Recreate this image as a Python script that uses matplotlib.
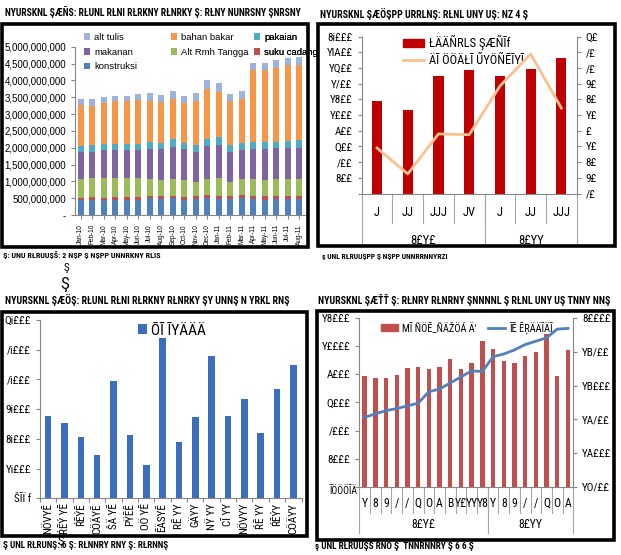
import matplotlib
matplotlib.use("Agg")
import matplotlib.pyplot as plt
import numpy as np
from matplotlib import font_manager as fm
from matplotlib.patches import Rectangle, Patch
from matplotlib.lines import Line2D

# ---------------- data ----------------
# chart 1: monthly stacked bars (values in million)
months1 = ["Jan-10", "Feb-10", "Mar-10", "Apr-10", "May-10", "Jun-10", "Jul-10",
           "Aug-10", "Sep-10", "Oct-10", "Nov-10", "Dec-10", "Jan-11", "Feb-11",
           "Mar-11", "Apr-11", "May-11", "Jun-11", "Jul-11", "Aug-11"]
konstruksi = [440, 460, 450, 460, 450, 450, 500, 480, 500, 450, 480, 500, 480, 480, 500, 470, 460, 480, 480, 470]
suku_cadang = [60, 60, 50, 70, 70, 80, 50, 70, 50, 80, 70, 80, 80, 70, 80, 80, 90, 70, 90, 80]
alt_rmh = [580, 580, 600, 570, 580, 570, 530, 500, 530, 520, 420, 500, 540, 420, 490, 530, 500, 520, 500, 520]
makanan = [800, 770, 820, 820, 820, 830, 870, 900, 950, 900, 900, 970, 980, 900, 860, 870, 900, 910, 930, 930]
pakaian = [170, 200, 180, 180, 180, 190, 230, 200, 220, 200, 210, 220, 240, 210, 220, 220, 220, 200, 200, 220]
bahan_bakar = [1230, 1180, 1220, 1300, 1300, 1300, 1220, 1200, 1200, 1170, 1320, 1480, 1330, 1320, 1300,
               2130, 2130, 2200, 2250, 2250]
alt_tulis = [170, 200, 180, 150, 150, 180, 220, 220, 230, 230, 230, 250, 270, 200, 230, 220, 220, 220, 210, 230]
series1 = ["konstruksi", "suku cadang", "Alt Rmh Tangga", "makanan", "pakaian", "bahan bakar", "alt tulis"]

# chart 2: quarterly bars + line
quarters2 = ["J", "JJ", "JJJ", "JV", "J", "JJ", "JJJ"]
years2 = ["8£Y£", "8£YY"]
year_sizes2 = [4, 3]
bars2 = [1180, 1070, 1500, 1570, 1500, 1590, 1730]
line2 = [-11, -27.5, -2, -2.5, 28.5, 49, 14.5]
yticks2_left = ["", "8££", "/££", "Q££", "A££", "Y£££", "Y8££", "Y/££", "YQ££", "YlA££", "8i£££"]
yticks2_right = ["/£", "9£", "8£", "Y£", "£", "Y£", "8£", "9£", "/£", "/£", "Q£"]
legend2 = ["ŁÄÄÑRLS ŞÆÑĪf", "ÄĪ ÖÖÄŁĪ ŰYÖÑĒĪYĪ"]

# chart 3: single series bars
cats3 = ["NÖVYĒ", "ŔĒÝ YĒ", "ŔĒÝĒ", "CÖÄYĒ", "ŠÄ YĒ", "PŸĒĒ", "OÖ YĒ", "ĒÄSYĒ",
         "RĒ YY", "GÄYY", "NŸ YY", "CĪ YY", "NÖVYY", "ŔĒ YY", "ŔĒÝY", "CÖÄYY"]
bars3 = [2770, 2520, 2050, 1450, 3960, 2130, 1110, 5410, 1880, 2740, 4800, 2770, 3330, 2200, 3680, 4500]
yticks3 = ["ŠĪÏ f", "Yi£££", "8i£££", "9i£££", "/i£££", "/i£££", "Qi£££"]
legend3 = "ŌĪ ĪYÄÄÄ"

# chart 4: monthly bars (left) + line (right)
months4 = ["Y", "8", "9", "/", "/", "Q", "O", "A", "B", "Y£", "YY", "Y8",
           "Y", "8", "9", "/", "/", "Q", "O", "A"]
years4 = ["8£Y£", "8£YY"]
year_sizes4 = [12, 8]
bars4 = [7890, 7770, 7770, 7960, 8460, 8550, 8380, 8500, 9100, 8380, 8840, 10400,
         9790, 8930, 8840, 9290, 9620, 10880, 7890, 9740]
line4 = [18530, 18580, 18630, 18660, 18700, 18740, 18910, 18950, 19040, 19130, 19220, 19210,
         19430, 19470, 19530, 19610, 19660, 19710, 19840, 19850]
yticks4_left = ["", "8£££", "/£££", "Q£££", "A£££", "Y££££", "Y8£££"]
yticks4_right = ["YO/££", "YA£££", "YA/££", "YB£££", "YB/££", "8££££"]
legend4 = ["MĪ ÑÖĒ_ÑÄŽÖÁ Ä'", "ĪĒ ĒŖÄÄĪÄĪ"]

titles = ["NYURSKNL ŞÆÑS: RŁUNL RŁNI RŁRKNY RŁNRKY Ş: RŁNY NUNRSNY ŞNRSNY",
          "NYURSKNL ŞÆÖŞPP URRLNŞ: RŁNL UNY UŞ: NZ 4 Ş",
          "NYURSKNL ŞÆÖŞ: RŁUNL RŁNI RŁRKNY RŁNRKY ŞY UNNŞ N YRKL RNŞ",
          "NYURSKNL ŞÆŤŤ Ş: RŁNRY RŁNRNY ŞNNNNL Ş RŁNL UNY UŞ TNNY NNŞ"]
captions = ["Ş: UNU RŁRUUŞŠ: 2 NŞP Ş NŞPP UNNRKNY RLIS",
            "ş UNL RŁRUUŞPP Ş NŞPP UNNRRNNYRZI",
            "Ş UNL RŁRUNŞ: 6 Ş: RŁNNRY RNY Ş: RŁRNNŞ",
            "ş UNL RŁRUUŞŠ RNO Ş  TNNRNNRY Ş 6 6 Ş"]

# ---------------- fonts ----------------
names = {f.name for f in fm.fontManager.ttflist}
NARROW = next((n for n in ["Liberation Sans Narrow", "Roboto Condensed", "Open Sans Condensed"]
               if n in names), "DejaVu Sans")
plt.rcParams["font.family"] = ["Liberation Sans", "DejaVu Sans"]
GF = [NARROW, "DejaVu Sans"]

W, H = 621, 555
fig = plt.figure(figsize=(W / 100, H / 100), dpi=100)


def axrect(x0, y0, x1, y1):
    return [x0 / W, 1 - y1 / H, (x1 - x0) / W, (y1 - y0) / H]


def box(x0, y0, x1, y1):
    fig.add_artist(Rectangle((x0 / W, 1 - y1 / H), (x1 - x0) / W, (y1 - y0) / H,
                             transform=fig.transFigure, fill=False, lw=2.6, ec="black"))


def ftext(x, y, s, size=7.5, **kw):
    kw.setdefault("ha", "left")
    kw.setdefault("va", "center")
    return fig.text(x / W, 1 - y / H, s, fontsize=size, family=GF, **kw)


def fit(t, width):
    # scale the font so the text spans the same width as in the reference
    r = fig.canvas.get_renderer()
    w = t.get_window_extent(r).width
    t.set_fontsize(t.get_fontsize() * width / w)


def style(ax):
    for sp in ["top", "right"]:
        ax.spines[sp].set_visible(False)
    ax.spines["left"].set_color("#868686")
    ax.spines["bottom"].set_color("#868686")
    ax.tick_params(axis="both", direction="out", length=3, color="#868686", width=0.8)


def style_right(ax):
    for sp in ["top", "left", "bottom"]:
        ax.spines[sp].set_visible(False)
    ax.spines["right"].set_color("#868686")
    ax.tick_params(direction="out", length=3, color="#868686", width=0.8)


def group_axis(ax, labels, groups, sizes, lab_y, short_y, long_y, grp_y, fs):
    tr = ax.get_xaxis_transform()
    n = len(labels)
    for i, lab in enumerate(labels):
        ax.text(i, lab_y, lab, transform=tr, ha="center", va="center", fontsize=fs, family=GF)
    for b in range(1, n):
        ax.plot([b - 0.5, b - 0.5], [0, short_y], transform=tr, color="#A6A6A6", lw=0.8, clip_on=False)
    edges = np.cumsum([0] + sizes) - 0.5
    for e in edges:
        ax.plot([e, e], [0, long_y], transform=tr, color="#A6A6A6", lw=0.8, clip_on=False)
    for g, s, e0 in zip(groups, sizes, edges[:-1]):
        ax.text(e0 + s / 2, grp_y, g, transform=tr, ha="center", va="center", fontsize=fs, family=GF)
    ax.set_xticks([])


# ---------------- chart 1 ----------------
box(2, 24, 308, 247)
ax1 = fig.add_axes(axrect(75, 46.7, 305, 215))
x1 = np.arange(len(months1))
colors1 = ["#4F81BD", "#C0504D", "#9BBB59", "#8064A2", "#4BACC6", "#F79646", "#9DB3DD"]
data1 = [konstruksi, suku_cadang, alt_rmh, makanan, pakaian, bahan_bakar, alt_tulis]
bottom = np.zeros(len(months1))
handles1 = {}
for name, vals, c in zip(series1, data1, colors1):
    v = np.array(vals) * 1e6
    handles1[name] = ax1.bar(x1, v, 0.5, bottom=bottom, color=c, label=name)
    bottom += v
ax1.set_xlim(-0.5, len(months1) - 0.5)
ax1.set_ylim(0, 5e9)
yt = np.arange(0, 5.01e9, 5e8)
ax1.set_yticks(yt)
ax1.set_yticklabels(["-"] + [f"{int(v):,}" for v in yt[1:]], fontsize=7)
ax1.set_xticks(x1)
ax1.set_xticklabels(months1, rotation=90, fontsize=4.7)
style(ax1)
# excel-like legend: three columns of equal width
cols1 = [(79, ["alt tulis", "makanan", "konstruksi"]),
         (166, ["bahan bakar", "Alt Rmh Tangga"]),
         (249, ["pakaian", "suku cadang"])]
for cx, names1 in cols1:
    lg = ax1.legend([handles1[n] for n in names1], names1, loc="upper left",
                    bbox_to_anchor=(cx / W, 1 - 28 / H), bbox_transform=fig.transFigure,
                    frameon=False, fontsize=6.8, handlelength=0.7, handleheight=0.7,
                    handletextpad=0.4, labelspacing=0.62, borderpad=0)
    ax1.add_artist(lg)

# ---------------- chart 2 ----------------
box(318, 24, 615, 246)
ax2 = fig.add_axes(axrect(361.7, 36.7, 576.7, 193.5))
x2 = np.arange(len(quarters2))
ax2.bar(x2, bars2, 0.33, color="#C00000", zorder=2)
ax2.set_xlim(-0.5, len(quarters2) - 0.5)
ax2.set_ylim(0, 2000)
ax2.set_yticks(np.arange(0, 2001, 200))
ax2.set_yticklabels(yticks2_left, fontsize=8, family=GF)
style(ax2)
ax2b = ax2.twinx()
ax2b.plot(x2, line2, color="#FAC090", lw=2)
ax2b.set_ylim(-40, 60)
ax2b.set_yticks(np.arange(-40, 61, 10))
ax2b.set_yticklabels(yticks2_right, fontsize=8, family=GF)
style_right(ax2b)
group_axis(ax2, quarters2, years2, year_sizes2, -0.122, -0.188, -0.318, -0.297, 9)
ax2.legend([Patch(color="#C00000"), Line2D([], [], color="#FAC090", lw=2)], legend2,
           loc="upper left", bbox_to_anchor=(397 / W, 1 - 29 / H), bbox_transform=fig.transFigure,
           frameon=False, prop={"family": GF, "size": 9}, handlelength=1.7,
           handletextpad=0.4, labelspacing=0.3, borderpad=0)

# ---------------- chart 3 ----------------
box(2, 312, 307, 536)
ax3 = fig.add_axes(axrect(40, 320, 301.5, 498.3))
x3 = np.arange(len(cats3))
ax3.bar(x3, bars3, 0.4, color="#3C6EBF", label=legend3)
ax3.set_xlim(-0.5, len(cats3) - 0.5)
ax3.set_ylim(0, 6000)
ax3.set_yticks(np.arange(0, 6001, 1000))
ax3.set_yticklabels(yticks3, fontsize=8, family=GF)
ax3.set_xticks(np.arange(-0.5, len(cats3), 1))
ax3.set_xticklabels([])
ax3.set_xticks(x3, minor=True)
ax3.set_xticklabels(cats3, minor=True, rotation=90, fontsize=8, family=GF)
ax3.tick_params(axis="x", which="minor", length=0)
style(ax3)
ax3.legend(loc="upper left", bbox_to_anchor=(130 / W, 1 - 316 / H), bbox_transform=fig.transFigure,
           frameon=False, prop={"family": GF, "size": 11}, handlelength=0.6, handleheight=0.6,
           handletextpad=0.3, borderpad=0)

# ---------------- chart 4 ----------------
box(317, 311, 614, 540)
ax4 = fig.add_axes(axrect(359.3, 318.3, 573.3, 486.7))
x4 = np.arange(len(months4))
ax4.bar(x4, bars4, 0.42, color="#C0504D", zorder=1)
ax4.set_xlim(-0.5, len(months4) - 0.5)
ax4.set_ylim(0, 12000)
ax4.set_yticks(np.arange(0, 12001, 2000))
ax4.set_yticklabels(yticks4_left, fontsize=8, family=GF)
style(ax4)
ax4b = ax4.twinx()
ax4b.plot(x4, line4, color="#4F81BD", lw=2)
ax4b.set_ylim(17500, 20000)
ax4b.set_yticks(np.arange(17500, 20001, 500))
ax4b.set_yticklabels(yticks4_right, fontsize=8, family=GF)
style_right(ax4b)
group_axis(ax4, months4, years4, year_sizes4, -0.097, -0.158, -0.277, -0.222, 8.5)
lg4a = ax4.legend([Patch(color="#C0504D")], [legend4[0]], loc="upper left",
                  bbox_to_anchor=(376 / W, 1 - 317 / H), bbox_transform=fig.transFigure,
                  frameon=False, prop={"family": GF, "size": 7.5}, handlelength=1.6,
                  handletextpad=0.4, borderpad=0)
ax4.add_artist(lg4a)
ax4.legend([Line2D([], [], color="#4F81BD", lw=2)], [legend4[1]], loc="upper left",
           bbox_to_anchor=(483 / W, 1 - 317 / H), bbox_transform=fig.transFigure,
           frameon=False, prop={"family": GF, "size": 7.5}, handlelength=1.6,
           handletextpad=0.4, borderpad=0)
ftext(343, 491, "ĪÖÖÖĪÄ", size=7, ha="center")

# ---------------- titles & captions ----------------
texts = [(ftext(5, 12, titles[0], weight="bold"), 295),
         (ftext(320, 14, titles[1], weight="bold"), 205),
         (ftext(5, 300, titles[2], weight="bold"), 280),
         (ftext(318, 300, titles[3], weight="bold"), 290),
         (ftext(3, 255, captions[0], weight="bold"), 157),
         (ftext(322, 257, captions[1], weight="bold"), 125),
         (ftext(3, 546, captions[2], weight="bold"), 165),
         (ftext(315, 546, captions[3], weight="bold"), 160)]
for t, w in texts:
    fit(t, w)
ftext(64, 268, "Ş", size=8)
ftext(60, 284, "Ş", size=12)
ftext(57, 541, "Ş", size=9)

fig.savefig("out.png", dpi=100)
